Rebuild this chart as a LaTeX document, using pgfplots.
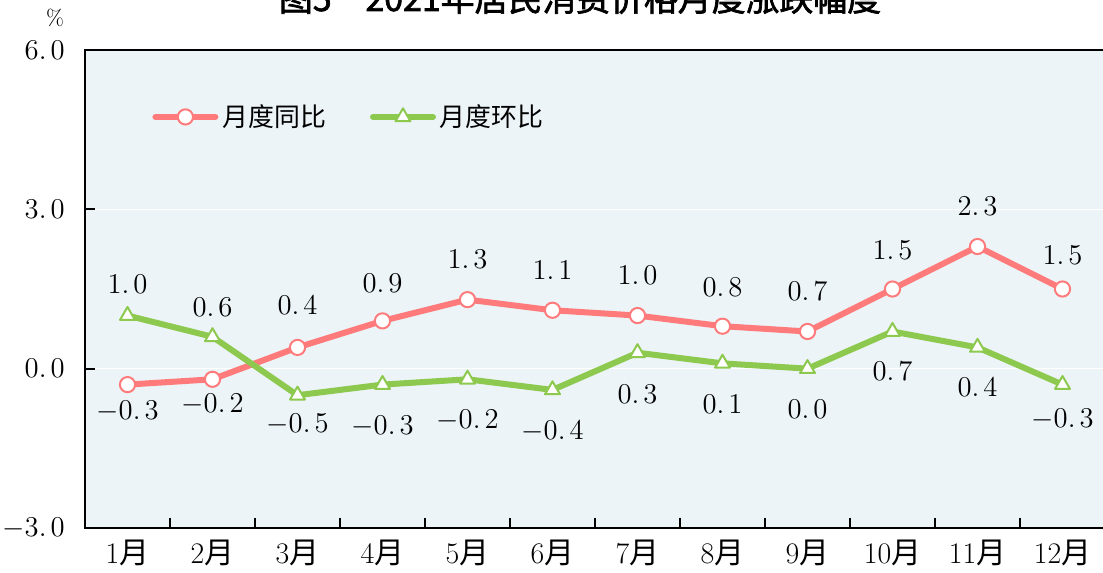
\documentclass[border=0pt]{standalone}
\usepackage{pgfplots}
\usepackage{pgfplotstable}
\pgfplotsset{compat=1.18}
\usepackage{fontspec}
\newfontfamily\cjk{Noto Sans CJK SC}
\newfontfamily\cjkb[FakeBold=2]{Noto Sans CJK SC}
\definecolor{redl}{HTML}{FF7B7B}
\definecolor{greenl}{HTML}{8DC84F}
\definecolor{bgc}{HTML}{ECF4F8}

\pgfplotstableread{
x y off
1 -0.3 -13.5
2 -0.2 -12.5
3 0.4 21
4 0.9 19
5 1.3 20
6 1.1 20
7 1.0 20
8 0.8 19.5
9 0.7 20
10 1.5 19.5
11 2.3 20
12 1.5 17
}\tongbi

\pgfplotstableread{
x y off
1 1.0 15.5
2 0.6 15
3 -0.5 -14.5
4 -0.3 -21
5 -0.2 -20.5
6 -0.4 -21
7 0.3 -21
8 0.1 -20.5
9 0.0 -20.5
10 0.7 -20
11 0.4 -20
12 -0.3 -17.5
}\huanbi

\begin{document}
\begin{tikzpicture}
\begin{axis}[name=ax, at={(0,0)}, anchor=south west,
  scale only axis, width=510bp, height=239bp,
  xmin=0.5, xmax=12.5, ymin=-3, ymax=6,
  axis background/.style={fill=bgc},
  axis line style={line width=1.2bp, black},
  ytick={-3,0,3,6},
  ymajorgrids, grid style={white, line width=0.8bp},
  xtick={1.5,2.5,...,11.5}, xticklabels={},
  extra x ticks={1,2,...,12},
  extra x tick labels={{1\cjk 月},{2\cjk 月},{3\cjk 月},{4\cjk 月},{5\cjk 月},{6\cjk 月},{7\cjk 月},{8\cjk 月},{9\cjk 月},{10\cjk 月},{11\cjk 月},{12\cjk 月}},
  extra x tick style={major tick length=0pt, grid=none},
  tick align=inside, major tick length=5bp,
  tick style={black, line width=1bp},
  ytick pos=left, xtick pos=bottom,
  ticklabel style={font=\fontsize{15}{17}\selectfont},
  yticklabel style={inner sep=0pt, xshift=-10bp},
  xticklabel style={inner sep=0pt, yshift=-6bp},
  /pgf/number format/.cd, fixed, fixed zerofill, precision=1, set decimal separator={.\mkern2.5mu}, /pgfplots/.cd,
  legend style={at={(rel axis cs:0.0657,0.86)}, anchor=west, draw=none, fill=none,
    font=\cjk\fontsize{13}{15}\selectfont, inner sep=0pt,
    /tikz/every even column/.append style={column sep=20bp}},
  legend columns=2,
  legend image code/.code={\draw[#1, line cap=round, mark=none] (0bp,0bp) -- (30bp,0bp);
    \draw[#1] plot coordinates {(15bp,0bp)};},
  nodes near coords,
  visualization depends on={\thisrow{off} \as \off},
  every node near coord/.append style={anchor=center, yshift=\off bp, black, font=\fontsize{15}{17}\selectfont},
  clip=false,
]
\addplot[redl, line width=3bp, line join=round, mark=*, mark size=3.8bp,
  mark options={fill=white, draw=redl, line width=1bp}] table[x=x, y=y] {\tongbi};
\addlegendentry{月度同比}
\addplot[greenl, line width=3bp, line join=round, mark=triangle*, mark size=4.3bp,
  mark options={fill=white, draw=greenl, line width=1bp}] table[x=x, y=y] {\huanbi};
\addlegendentry{月度环比}
\end{axis}
\node[font=\fontsize{11}{13}\selectfont] at ([xshift=-15bp,yshift=16bp]ax.north west) {\%};
\node[overlay, anchor=base, font=\cjkb\fontsize{17}{19}\selectfont] at (247.5bp,258.5bp) {图5\quad 2021年居民消费价格月度涨跌幅度};
\pgfresetboundingbox
\useasboundingbox (-42.5bp,-22.5bp) rectangle (509bp,264bp);
\end{tikzpicture}
\end{document}
